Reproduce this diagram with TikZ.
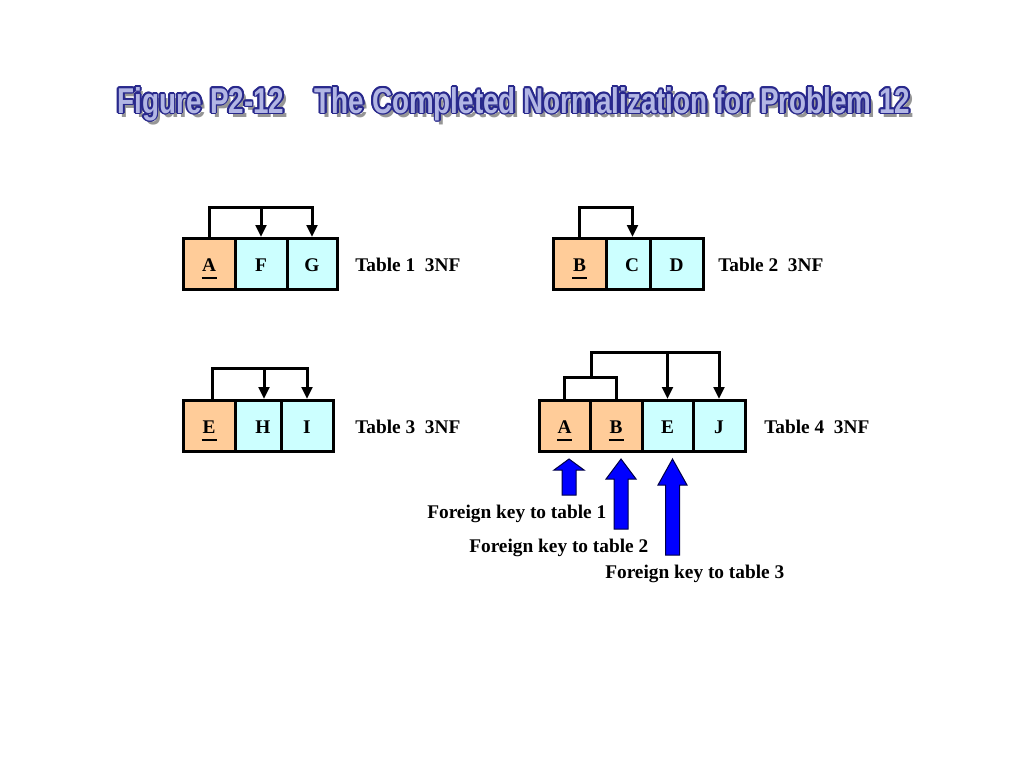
\documentclass[tikz,border=0pt]{standalone}
\usepackage{fontspec}
\setmainfont{Liberation Serif}
\newfontfamily\titlefont{Liberation Sans}
\usetikzlibrary{arrows.meta,calc}
\definecolor{keyfill}{RGB}{255,204,153}
\definecolor{attrfill}{RGB}{204,255,255}
\definecolor{fkblue}{RGB}{0,0,255}
\definecolor{fkline}{RGB}{0,0,70}
\definecolor{ttlfill}{RGB}{178,182,228}
\definecolor{ttlline}{RGB}{40,40,140}
\definecolor{ttlshade}{RGB}{150,150,150}
\newcommand\ttltext{\resizebox{594.75pt}{19.5pt}{\titlefont\bfseries Figure P2-12\hspace{1.1em}The Completed Normalization for Problem 12}}
\newcommand\keyul[1]{\ooalign{#1\cr\hidewidth\smash{\raisebox{-6.25pt}{\rule{11.25pt}{2pt}}}\hidewidth\cr}}
\tikzset{
  cell/.style={draw=black, line width=2.25pt, inner sep=0pt,
    font=\fontsize{14.5}{17}\selectfont\bfseries,
    text height=10.5pt, text depth=0pt, minimum height=38.25pt},
  keycell/.style={cell, fill=keyfill},
  attrcell/.style={cell, fill=attrfill},
  dep/.style={line width=2.25pt, -{Triangle[width=8pt,length=9pt]}},
  plainline/.style={line width=2.25pt},
  lbl/.style={inner sep=0pt, anchor=base west, font=\fontsize{14.5}{17}\selectfont\bfseries},
  fk/.style={fill=fkblue, draw=fkline, line width=0.75pt, line join=miter},
  ttl/.style={inner sep=0pt, anchor=base west}
}
\begin{document}
\begin{tikzpicture}[x=0.75pt,y=-0.75pt]
\useasboundingbox (0,0) rectangle (1024,768);
\fill[white] (0,0) rectangle (1024,768);

% title (WordArt style: shadow, outline, fill)
\node[ttl, text=ttlshade] (ttlshadow) at (120.5,117) {\ttltext};
\foreach \a in {0,30,...,330} {
  \node[ttl, text=ttlline] (ttlo\a) at ($(117,113)+(\a:1.9)$) {\ttltext};
}
\node[ttl, text=ttlfill] (ttl) at (117,113) {\ttltext};

% Table 1
\node[keycell, minimum width=39pt]    (t1a) at (209,264) {\keyul{A}};
\node[attrcell, minimum width=39pt]   (t1f) at (261,264) {F};
\node[attrcell, minimum width=37.5pt] (t1g) at (312,264) {G};
\node[lbl] (lab1) at (355,271) {Table 1\ \ 3NF};

% Table 2
\node[keycell, minimum width=39.75pt]  (t2b) at (579.5,264) {\keyul{B}};
\node[attrcell, minimum width=33pt]    (t2c) at (628,264) {\hspace*{6pt}C};
\node[attrcell, minimum width=39.75pt] (t2d) at (676.5,264) {D};
\node[lbl] (lab2) at (718,271) {Table 2\ \ 3NF};

% Table 3
\node[keycell, minimum width=39pt]    (t3e) at (209,426) {\keyul{E}};
\node[attrcell, minimum width=34.5pt] (t3h) at (258,426) {\hspace*{7.5pt}H};
\node[attrcell, minimum width=39pt]   (t3i) at (307,426) {I};
\node[lbl] (lab3) at (355,433) {Table 3\ \ 3NF};

% Table 4
\node[keycell, minimum width=38.25pt]  (t4a) at (564.5,426) {\keyul{A}};
\node[keycell, minimum width=39pt]     (t4b) at (616,426) {\keyul{B}};
\node[attrcell, minimum width=38.25pt] (t4e) at (667.5,426) {E};
\node[attrcell, minimum width=39pt]    (t4j) at (719,426) {J};
\node[lbl] (lab4) at (764,433) {Table 4\ \ 3NF};

% dependency brackets
\coordinate (b1) at (0,207);
\draw[dep] (t1a.north) -- (t1a.north |- b1) -| (t1g.north);
\draw[dep] (t1f.north |- b1) -- (t1f.north);

\coordinate (b2) at (0,207);
\coordinate (c2) at ($(t2c.north)+(4.5,0)$);
\draw[dep] (t2b.north) -- (t2b.north |- b2) -| (c2);

\coordinate (b3) at (0,368);
\coordinate (e3) at ($(t3e.north)+(3,0)$);
\coordinate (h3) at ($(t3h.north)+(6,0)$);
\draw[dep] (e3) -- (e3 |- b3) -| (t3i.north);
\draw[dep] (h3 |- b3) -- (h3);

\coordinate (b4i) at (0,377);
\coordinate (b4o) at (591,352);
\draw[plainline] (t4a.north) -- (t4a.north |- b4i) -| (t4b.north);
\draw[dep] (b4o |- b4i) -- (b4o) -| (t4j.north);
\draw[dep] (t4e.north |- b4o) -- (t4e.north);

% foreign key block arrows
\filldraw[fk] (562,495) -- (562,470) -- (554,470) -- (569,459) -- (584,470) -- (576,470) -- (576,495) -- cycle;
\filldraw[fk] (614,529) -- (614,479) -- (606,479) -- (621,459) -- (636,479) -- (628,479) -- (628,529) -- cycle;
\filldraw[fk] (665.5,555) -- (665.5,485) -- (658,485) -- (672.5,459) -- (687,485) -- (679.5,485) -- (679.5,555) -- cycle;

\node[lbl] (fk1) at (427,518) {Foreign key to table 1};
\node[lbl] (fk2) at (469,552) {Foreign key to table 2};
\node[lbl] (fk3) at (605,578) {Foreign key to table 3};
\end{tikzpicture}
\end{document}
